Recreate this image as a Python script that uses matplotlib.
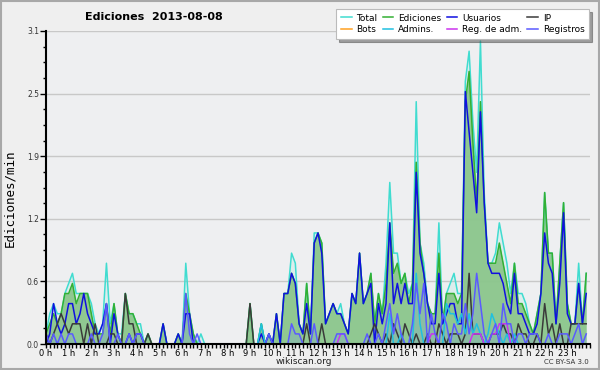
import numpy as np
import matplotlib
matplotlib.use("Agg")
import matplotlib.pyplot as plt
from matplotlib.patches import Rectangle
from matplotlib.ticker import MultipleLocator, FixedLocator, FormatStrFormatter

# ---- data: edits per minute, 10-minute buckets (144 per day) ----
total = [
    0.1, 0.3, 0.4, 0.3, 0.3, 0.5,   0.6, 0.7, 0.5, 0.5, 0.5, 0.5,
    0.4, 0.2, 0.1, 0.2, 0.8, 0.2,   0.4, 0.1, 0.1, 0.5, 0.3, 0.3,
    0.2, 0.2, 0.0, 0.1, 0.0, 0.0,   0.0, 0.2, 0.0, 0.0, 0.0, 0.1,
    0.0, 0.8, 0.3, 0.1, 0.0, 0.1,   0.0, 0.0, 0.0, 0.0, 0.0, 0.0,
    0.0, 0.0, 0.0, 0.0, 0.0, 0.0,   0.4, 0.0, 0.0, 0.2, 0.0, 0.1,
    0.0, 0.3, 0.0, 0.5, 0.5, 0.9,   0.8, 0.2, 0.1, 0.6, 0.1, 1.1,
    1.1, 1.0, 0.2, 0.3, 0.4, 0.3,   0.4, 0.2, 0.1, 0.5, 0.4, 0.9,
    0.4, 0.5, 0.7, 0.2, 0.5, 0.3,   0.8, 1.6, 0.9, 0.9, 0.6, 0.7,
    0.5, 0.6, 2.4, 1.0, 0.8, 0.4,   0.3, 0.3, 1.2, 0.2, 0.5, 0.6,
    0.7, 0.5, 0.5, 2.6, 2.9, 2.2,   1.7, 3.0, 1.5, 0.8, 0.8, 0.9,
    1.2, 1.0, 0.8, 0.5, 0.8, 0.5,   0.5, 0.4, 0.2, 0.1, 0.3, 0.5,
    1.5, 0.9, 0.9, 0.2, 0.8, 1.4,   0.4, 0.2, 0.2, 0.8, 0.2, 0.7,
]
ediciones = [
    0.1, 0.2, 0.3, 0.2, 0.3, 0.5,   0.5, 0.6, 0.4, 0.5, 0.5, 0.5,
    0.3, 0.1, 0.1, 0.1, 0.4, 0.1,   0.4, 0.1, 0.0, 0.5, 0.3, 0.3,
    0.2, 0.1, 0.0, 0.1, 0.0, 0.0,   0.0, 0.2, 0.0, 0.0, 0.0, 0.1,
    0.0, 0.5, 0.3, 0.1, 0.0, 0.0,   0.0, 0.0, 0.0, 0.0, 0.0, 0.0,
    0.0, 0.0, 0.0, 0.0, 0.0, 0.0,   0.4, 0.0, 0.0, 0.2, 0.0, 0.1,
    0.0, 0.3, 0.0, 0.5, 0.5, 0.7,   0.6, 0.2, 0.1, 0.6, 0.1, 1.0,
    1.1, 1.0, 0.2, 0.3, 0.4, 0.3,   0.3, 0.2, 0.1, 0.5, 0.4, 0.9,
    0.4, 0.5, 0.7, 0.2, 0.5, 0.3,   0.6, 1.2, 0.7, 0.8, 0.6, 0.7,
    0.4, 0.6, 1.8, 1.0, 0.7, 0.4,   0.3, 0.3, 0.9, 0.2, 0.5, 0.5,
    0.5, 0.4, 0.5, 2.4, 2.7, 2.0,   1.4, 2.4, 1.4, 0.8, 0.8, 0.8,
    1.0, 0.8, 0.6, 0.4, 0.8, 0.4,   0.4, 0.3, 0.2, 0.1, 0.3, 0.5,
    1.5, 0.9, 0.9, 0.2, 0.8, 1.4,   0.4, 0.2, 0.2, 0.6, 0.2, 0.7,
]
usuarios = [
    0.0, 0.1, 0.4, 0.2, 0.1, 0.2,   0.4, 0.4, 0.2, 0.3, 0.5, 0.3,
    0.2, 0.1, 0.1, 0.2, 0.4, 0.0,   0.3, 0.1, 0.0, 0.0, 0.1, 0.0,
    0.1, 0.1, 0.0, 0.0, 0.0, 0.0,   0.0, 0.2, 0.0, 0.0, 0.0, 0.1,
    0.0, 0.3, 0.3, 0.0, 0.0, 0.0,   0.0, 0.0, 0.0, 0.0, 0.0, 0.0,
    0.0, 0.0, 0.0, 0.0, 0.0, 0.0,   0.0, 0.0, 0.0, 0.1, 0.0, 0.1,
    0.0, 0.3, 0.0, 0.5, 0.5, 0.7,   0.6, 0.2, 0.1, 0.4, 0.1, 1.0,
    1.1, 0.9, 0.2, 0.3, 0.4, 0.3,   0.3, 0.2, 0.1, 0.5, 0.4, 0.9,
    0.4, 0.5, 0.6, 0.0, 0.4, 0.2,   0.4, 1.2, 0.4, 0.6, 0.4, 0.6,
    0.4, 0.4, 1.7, 0.9, 0.7, 0.4,   0.2, 0.2, 0.7, 0.2, 0.3, 0.4,
    0.4, 0.2, 0.2, 2.5, 2.1, 1.7,   1.3, 2.3, 1.4, 0.8, 0.7, 0.7,
    0.7, 0.6, 0.4, 0.3, 0.7, 0.3,   0.3, 0.2, 0.1, 0.1, 0.2, 0.5,
    1.1, 0.8, 0.7, 0.2, 0.6, 1.3,   0.3, 0.2, 0.2, 0.6, 0.2, 0.5,
]
ip = [
    0.1, 0.0, 0.1, 0.2, 0.3, 0.2,   0.1, 0.2, 0.2, 0.2, 0.0, 0.2,
    0.0, 0.2, 0.0, 0.0, 0.0, 0.1,   0.1, 0.0, 0.0, 0.5, 0.2, 0.2,
    0.0, 0.0, 0.0, 0.1, 0.0, 0.0,   0.0, 0.0, 0.0, 0.0, 0.0, 0.0,
    0.0, 0.0, 0.0, 0.0, 0.0, 0.0,   0.0, 0.0, 0.0, 0.0, 0.0, 0.0,
    0.0, 0.0, 0.0, 0.0, 0.0, 0.0,   0.4, 0.0, 0.0, 0.0, 0.0, 0.0,
    0.0, 0.0, 0.0, 0.0, 0.0, 0.0,   0.0, 0.0, 0.0, 0.2, 0.0, 0.0,
    0.0, 0.2, 0.0, 0.0, 0.0, 0.0,   0.0, 0.0, 0.0, 0.0, 0.0, 0.0,
    0.0, 0.0, 0.1, 0.2, 0.1, 0.0,   0.1, 0.0, 0.2, 0.1, 0.0, 0.2,
    0.1, 0.0, 0.1, 0.0, 0.0, 0.1,   0.0, 0.0, 0.2, 0.1, 0.0, 0.1,
    0.1, 0.1, 0.0, 0.1, 0.7, 0.1,   0.1, 0.1, 0.0, 0.0, 0.1, 0.1,
    0.1, 0.2, 0.1, 0.1, 0.0, 0.2,   0.1, 0.1, 0.0, 0.0, 0.1, 0.0,
    0.4, 0.1, 0.2, 0.0, 0.2, 0.0,   0.0, 0.2, 0.2, 0.2, 0.2, 0.2,
]
bots = [0.0] * 144
admins = [0.0] * 57 + [0.2] + [0.0] * 33 + [0.3, 0.0, 0.0, 0.1, 0.0,
    0.0, 0.0, 0.7, 0.2, 0.0, 0.0,   0.0, 0.0, 0.0, 0.0, 0.4, 0.3,
    0.3, 0.2, 0.3, 0.1, 0.3, 0.1,   0.2, 0.1, 0.0, 0.1, 0.3, 0.2,
    0.1, 0.0, 0.1, 0.0, 0.1, 0.0] + [0.0] * 18
reg_adm = [0.0] * 78 + [0.1, 0.1] + [0.0] * 22 + [0.1, 0.1, 0.0, 0.0, 0.0, 0.0,
    0.0, 0.0, 0.0, 0.0, 0.0, 0.1,   0.1, 0.1, 0.0, 0.0, 0.1, 0.1,
    0.2, 0.2, 0.2, 0.0, 0.0, 0.0] + [0.0] * 18
registros = [
    0.1, 0.0, 0.1, 0.0, 0.1, 0.0,   0.1, 0.1, 0.0, 0.0, 0.0, 0.0,
    0.1, 0.0, 0.0, 0.1, 0.4, 0.0,   0.0, 0.1, 0.0, 0.0, 0.1, 0.0,
    0.1, 0.1, 0.0, 0.0, 0.0, 0.0,   0.0, 0.0, 0.0, 0.0, 0.0, 0.0,
    0.0, 0.5, 0.1, 0.0, 0.1, 0.0,   0.0, 0.0, 0.0, 0.0, 0.0, 0.0,
    0.0, 0.0, 0.0, 0.0, 0.0, 0.0,   0.0, 0.0, 0.0, 0.0, 0.0, 0.1,
    0.0, 0.0, 0.0, 0.0, 0.0, 0.2,   0.1, 0.1, 0.0, 0.0, 0.0, 0.2,
    0.0, 0.0, 0.0, 0.0, 0.0, 0.1,   0.1, 0.1, 0.0, 0.0, 0.0, 0.0,
    0.0, 0.1, 0.0, 0.0, 0.1, 0.0,   0.2, 0.4, 0.1, 0.3, 0.1, 0.0,
    0.0, 0.2, 0.6, 0.3, 0.6, 0.0,   0.3, 0.1, 0.0, 0.3, 0.2, 0.0,
    0.2, 0.1, 0.1, 0.4, 0.1, 0.3,   0.7, 0.4, 0.1, 0.0, 0.1, 0.2,
    0.0, 0.4, 0.2, 0.2, 0.0, 0.1,   0.1, 0.0, 0.1, 0.1, 0.1, 0.0,
    0.0, 0.1, 0.0, 0.0, 0.1, 0.1,   0.1, 0.0, 0.1, 0.2, 0.0, 0.1,
]
hour_labels = [f"{h} h" for h in range(24)]
title = "Ediciones  2013-08-08"
ylabel = "Ediciones/min"
ymax = 3.1

x = np.arange(len(total)) / 6.0

fig = plt.figure(figsize=(6.0, 3.7), dpi=100, facecolor="#efefef")
ax = fig.add_axes([46 / 600, 26 / 370, 544 / 600, 313 / 370])
ax.set_facecolor("#eeeff1")

# fills
ax.fill_between(x, 0, total, color="#40e0d0", alpha=0.10, lw=0, zorder=1)
ax.fill_between(x, 0, ediciones, color="#8cc68c", alpha=0.95, lw=0, zorder=1.1)
ax.fill_between(x, 0, registros, color="#7090ff", alpha=0.18, lw=0, zorder=1.2)

lw = 1.1
series = [
    ("Total", total, "#40dcd0"),
    ("Ediciones", ediciones, "#33b033"),
    ("Usuarios", usuarios, "#1010e0"),
    ("IP", ip, "#3a3a3a"),
    ("Bots", bots, "#ffa020"),
    ("Admins.", admins, "#20c0e0"),
    ("Reg. de adm.", reg_adm, "#cc33ee"),
    ("Registros", registros, "#5a5aff"),
]
handles = {}
for name, vals, col in series:
    (h,) = ax.plot(x, vals, color=col, lw=lw, zorder=2)
    handles[name] = h

ax.set_xlim(0, 24)
ax.set_ylim(0, ymax)
yt = np.linspace(0, ymax, 6)
ax.yaxis.set_major_locator(FixedLocator(yt))
ax.yaxis.set_major_formatter(FormatStrFormatter("%.1f"))
ax.yaxis.set_minor_locator(FixedLocator(np.linspace(0, ymax, 21)))
ax.set_xticks(np.arange(24))
ax.set_xticklabels(hour_labels)
ax.xaxis.set_minor_locator(MultipleLocator(1 / 6))
ax.grid(axis="y", which="major", color="#c8c8c8", lw=1, zorder=0)
ax.set_axisbelow(True)

for s in ("top", "right"):
    ax.spines[s].set_visible(False)
for s in ("left", "bottom"):
    ax.spines[s].set_color("black")
    ax.spines[s].set_linewidth(1.5)
    ax.spines[s].set_zorder(3)

ax.tick_params(axis="y", which="major", length=4, width=1, labelsize=5.5,
               colors="black", pad=1)
ax.tick_params(axis="y", which="minor", length=2, width=1)
ax.tick_params(axis="x", which="both", length=3, width=1, direction="out")
ax.tick_params(axis="x", which="major", labelsize=6, pad=0.5)
for lab in ax.get_yticklabels():
    lab.set_color("#333333")

fig.text(85 / 600, 1 - 17 / 370, title, fontsize=8, fontweight="bold",
         ha="left", va="center")
fig.text(10 / 600, 1 - 198 / 370, ylabel, rotation=90, fontsize=9,
         family="DejaVu Sans Mono", ha="center", va="center")
fig.text(304 / 600, 1 - 362 / 370, "wikiscan.org", fontsize=6.5,
         ha="center", va="center", color="#222222")
fig.text(589 / 600, 1 - 362 / 370, "CC BY-SA 3.0", fontsize=5,
         ha="right", va="center", color="#333333")

order = ["Total", "Bots", "Ediciones", "Admins.", "Usuarios", "Reg. de adm.",
         "IP", "Registros"]
leg = fig.legend([handles[n] for n in order], order, ncol=4,
                 loc="upper right", bbox_to_anchor=(589 / 600, 1 - 9 / 370),
                 fontsize=6.5, frameon=True, fancybox=False, shadow=True,
                 handlelength=1.2, handletextpad=0.5, columnspacing=0.6,
                 labelspacing=0.3, borderpad=0.5, borderaxespad=0)
leg.get_frame().set_edgecolor("#bbbbbb")
leg.get_frame().set_facecolor("white")
leg.get_frame().set_linewidth(0.8)

fig.patches.append(Rectangle((0.0015, 0.0025), 0.997, 0.995,
                             transform=fig.transFigure, fill=False,
                             edgecolor="#a8a8a8", lw=1.5))

fig.savefig("out.png", dpi=100, facecolor=fig.get_facecolor())
